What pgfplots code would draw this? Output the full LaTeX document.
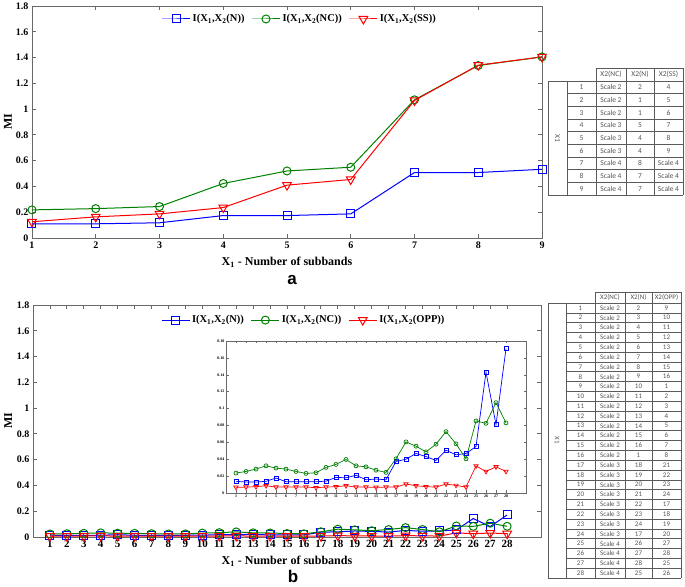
\documentclass[border=0pt]{standalone}
\usepackage{pgfplots}
\pgfplotsset{compat=1.18}
\usepackage{pgfplotstable}
\usepackage{fontspec}
\setmainfont{Liberation Serif}
\newfontfamily\tabfont{Carlito}
\newfontfamily\labfont{Liberation Sans}

\definecolor{mblue}{RGB}{0,0,255}
\definecolor{mgreen}{RGB}{0,128,0}
\definecolor{mred}{RGB}{255,0,0}
\definecolor{axgray}{RGB}{105,105,105}
\definecolor{tabtext}{RGB}{85,85,85}
\definecolor{tabline}{RGB}{90,90,90}

\pgfplotstableread{
x N NC SS
1 0.110 0.218 0.126
2 0.110 0.228 0.164
3 0.118 0.244 0.187
4 0.174 0.423 0.236
5 0.174 0.520 0.410
6 0.187 0.549 0.454
7 0.508 1.072 1.067
8 0.508 1.338 1.341
9 0.533 1.405 1.405
}\dataa

\pgfplotstableread{
x N NC OPP
1 0.0138 0.0236 0.0067
2 0.0130 0.0255 0.0070
3 0.0130 0.0283 0.0075
4 0.0138 0.0322 0.0086
5 0.0177 0.0295 0.0070
6 0.0134 0.0283 0.0070
7 0.0134 0.0255 0.0070
8 0.0134 0.0232 0.0070
9 0.0134 0.0240 0.0063
10 0.0140 0.0303 0.0070
11 0.0185 0.0338 0.0075
12 0.0180 0.0397 0.0086
13 0.0210 0.0322 0.0070
14 0.0157 0.0310 0.0070
15 0.0165 0.0270 0.0067
16 0.0157 0.0244 0.0070
17 0.0373 0.0405 0.0070
18 0.0400 0.0605 0.0106
19 0.0468 0.0554 0.0086
20 0.0432 0.0487 0.0075
21 0.0385 0.0578 0.0070
22 0.0507 0.0727 0.0106
23 0.0452 0.0582 0.0090
24 0.0468 0.0405 0.0070
25 0.0550 0.0853 0.0320
26 0.1430 0.0825 0.0255
27 0.0810 0.1070 0.0310
28 0.1710 0.0830 0.0255
}\datab

\pgfplotsset{
  mystyle/.style={
    scale only axis,
    anchor=south west,
    axis line style={axgray, line width=0.8pt},
    tick style={axgray, line width=0.8pt},
    major tick length=4pt,
    scaled ticks=false,
    /pgf/number format/assume math mode=true,
    ticklabel style={font=\bfseries\fontsize{10}{10}\selectfont, text=black},
    label style={font=\bfseries\fontsize{12}{12}\selectfont},
    xlabel style={at={(axis description cs:0.5,0)}, anchor=center, yshift=-24pt},
    legend style={draw=none, fill=none, legend columns=3, anchor=center,
      font=\bfseries\fontsize{10.5}{11}\selectfont,
      /tikz/every even column/.append style={column sep=5pt}},
    legend image code/.code={\draw[##1, mark repeat=2, mark phase=2] plot coordinates {(0pt,0pt)(14pt,0pt)(28pt,0pt)};},
  },
  serN/.style={mblue, line width=1pt, mark=square, mark size=4pt, mark options={solid}},
  serNC/.style={mgreen, line width=1pt, mark=o, mark size=4pt, mark options={solid}},
  serSS/.style={mred, line width=1pt, mark=triangle, mark size=5pt, mark options={solid, rotate=180}},
}

\begin{document}
\begin{tikzpicture}
\path[use as bounding box] (0pt,0pt) rectangle (685pt,586pt);

% ---------------- plot a ----------------
\begin{axis}[mystyle,
  at={(32pt,348pt)}, width=510pt, height=232pt,
  xmin=1, xmax=9, ymin=0, ymax=1.8,
  xtick={1,2,3,4,5,6,7,8,9},
  ytick={0,0.2,0.4,0.6,0.8,1,1.2,1.4,1.6,1.8},
  xlabel={X\textsubscript{1} - Number of subbands},
  ylabel={MI},
  ylabel style={at={(axis description cs:-0.047,0.5)}, anchor=center},
  legend style={at={(0.525,0.944)}},
]
\addplot[serN] table[x=x, y=N] {\dataa};
\addlegendentry{I(X\textsubscript{1},X\textsubscript{2}(N))}
\addplot[serNC] table[x=x, y=NC] {\dataa};
\addlegendentry{I(X\textsubscript{1},X\textsubscript{2}(NC))}
\addplot[serSS] table[x=x, y=SS] {\dataa};
\addlegendentry{I(X\textsubscript{1},X\textsubscript{2}(SS))}
\end{axis}
\node[font=\labfont\bfseries\fontsize{17}{17}\selectfont, anchor=base, inner sep=0pt] at (292pt,301pt) {a};

% ---------------- plot b ----------------
\begin{axis}[mystyle,
  at={(33pt,49pt)}, width=508pt, height=232pt,
  xmin=0, xmax=30, ymin=0, ymax=1.8,
  xtick={1,...,28},
  ytick={0,0.2,0.4,0.6,0.8,1,1.2,1.4,1.6,1.8},
  xticklabel style={font=\bfseries\fontsize{11}{11}\selectfont},
  xlabel={X\textsubscript{1} - Number of subbands},
  ylabel={MI},
  ylabel style={at={(axis description cs:-0.049,0.5)}, anchor=center},
  legend style={at={(0.533,0.935)}},
]
\addplot[serN] table[x=x, y=N] {\datab};
\addlegendentry{I(X\textsubscript{1},X\textsubscript{2}(N))}
\addplot[serNC] table[x=x, y=NC] {\datab};
\addlegendentry{I(X\textsubscript{1},X\textsubscript{2}(NC))}
\addplot[serSS] table[x=x, y=OPP] {\datab};
\addlegendentry{I(X\textsubscript{1},X\textsubscript{2}(OPP))}
\end{axis}
\node[font=\labfont\bfseries\fontsize{17}{17}\selectfont, anchor=base, inner sep=0pt] at (293pt,3.5pt) {b};

% ---------------- inset ----------------
\begin{axis}[
  scale only axis, anchor=south west,
  at={(226pt,93pt)}, width=300pt, height=152pt,
  axis background/.style={fill=white},
  axis line style={axgray, line width=0.6pt},
  tick style={axgray, line width=0.5pt},
  major tick length=2.5pt,
  scaled ticks=false,
  /pgf/number format/assume math mode=true,
  ticklabel style={font=\bfseries\fontsize{4}{4}\selectfont, text=black, inner sep=1.5pt},
  yticklabel style={/pgf/number format/fixed, /pgf/number format/precision=2},
  xmin=0, xmax=30, ymin=0, ymax=0.18,
  xtick={1,...,28},
  ytick={0,0.02,0.04,0.06,0.08,0.1,0.12,0.14,0.16,0.18},
]
\addplot[mblue, line width=0.7pt, mark=square, mark size=2pt, mark options={solid}] table[x=x, y=N] {\datab};
\addplot[mgreen, line width=0.7pt, mark=o, mark size=2pt, mark options={solid}] table[x=x, y=NC] {\datab};
\addplot[mred, line width=0.7pt, mark=triangle, mark size=2.5pt, mark options={solid, rotate=180}] table[x=x, y=OPP] {\datab};
\end{axis}

% ---------------- tables ----------------
\begin{scope}[shift={(0pt,586pt)}, x=1pt, y=-1pt, tabline, line width=0.5pt]
  % table a
  \begin{scope}[every node/.style={font=\tabfont\fontsize{7.5}{8}\selectfont, text=tabtext, inner sep=0pt}]
  \draw (548,81) rectangle (567,195);
  \node[rotate=-90] at (557.5,138) {X1};
  \draw (596,68) rectangle (683,81);
  \draw (626,68) -- (626,81);
  \draw (654,68) -- (654,81);
  \node at (611,74.5) {X2(NC)};
  \node at (640,74.5) {X2(N)};
  \node at (668.5,74.5) {X2(SS)};
  \foreach \k in {0,...,9} \draw (567,{81+12.667*\k}) -- (683,{81+12.667*\k});
  \foreach \xx in {567,596,626,654,683} \draw (\xx,81) -- (\xx,195);
  \foreach \r/\a/\b/\c [count=\i from 0] in {
    1/Scale 2/2/4, 2/Scale 2/1/5, 3/Scale 2/1/6, 4/Scale 3/5/7, 5/Scale 3/4/8,
    6/Scale 3/4/9, 7/Scale 4/8/Scale 4, 8/Scale 4/7/Scale 4, 9/Scale 4/7/Scale 4} {
    \node at (581.5,{87.33+12.667*\i}) {\r};
    \node at (611,{87.33+12.667*\i}) {\a};
    \node at (640,{87.33+12.667*\i}) {\b};
    \node at (668.5,{87.33+12.667*\i}) {\c};
  }
  \end{scope}
  % table b
  \begin{scope}[every node/.style={font=\tabfont\fontsize{7}{7}\selectfont, text=tabtext, inner sep=0pt}]
  \draw (548,303) rectangle (566,578);
  \node[rotate=-90] at (557,440) {X1};
  \draw (595,292) rectangle (681,303);
  \draw (625,292) -- (625,303);
  \draw (652,292) -- (652,303);
  \node at (610,297.5) {X2(NC)};
  \node at (638.5,297.5) {X2(N)};
  \node at (666.5,297.5) {X2(OPP)};
  \foreach \k in {0,...,28} \draw (566,{303+9.821*\k}) -- (681,{303+9.821*\k});
  \foreach \xx in {566,595,625,652,681} \draw (\xx,303) -- (\xx,578);
  \foreach \r/\a/\b/\c [count=\i from 0] in {
    1/Scale 2/2/9, 2/Scale 2/3/10, 3/Scale 2/4/11, 4/Scale 2/5/12, 5/Scale 2/6/13,
    6/Scale 2/7/14, 7/Scale 2/8/15, 8/Scale 2/9/16, 9/Scale 2/10/1, 10/Scale 2/11/2,
    11/Scale 2/12/3, 12/Scale 2/13/4, 13/Scale 2/14/5, 14/Scale 2/15/6, 15/Scale 2/16/7,
    16/Scale 2/1/8, 17/Scale 3/18/21, 18/Scale 3/19/22, 19/Scale 3/20/23, 20/Scale 3/21/24,
    21/Scale 3/22/17, 22/Scale 3/23/18, 23/Scale 3/24/19, 24/Scale 3/17/20, 25/Scale 4/26/27,
    26/Scale 4/27/28, 27/Scale 4/28/25, 28/Scale 4/25/26} {
    \node at (580.5,{307.9+9.821*\i}) {\r};
    \node at (610,{307.9+9.821*\i}) {\a};
    \node at (638.5,{307.9+9.821*\i}) {\b};
    \node at (666.5,{307.9+9.821*\i}) {\c};
  }
  \end{scope}
\end{scope}
\end{tikzpicture}
\end{document}
